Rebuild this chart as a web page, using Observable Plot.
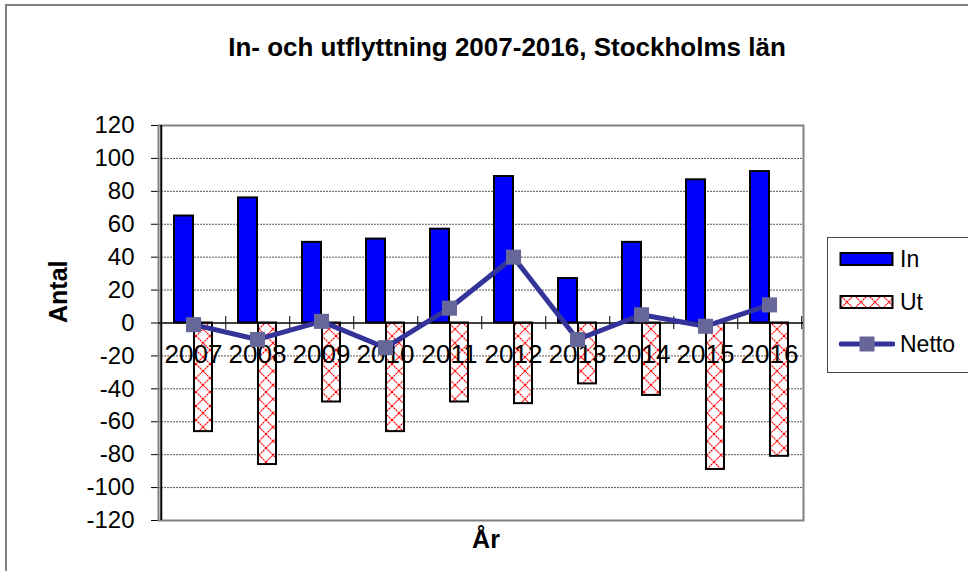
<!DOCTYPE html>
<html>
<head>
<meta charset="utf-8">
<script src="https://cdn.jsdelivr.net/npm/d3@7"></script>
<script src="https://cdn.jsdelivr.net/npm/@observablehq/plot@0.6"></script>
<style>
  html, body { margin: 0; padding: 0; background: #fff; }
  #wrap { position: relative; width: 968px; height: 571px; overflow: hidden; font-family: "Liberation Sans", Arial, sans-serif; }
  #frame { position: absolute; left: 5px; top: 4px; width: 1010px; height: 620px; border: 2px solid #7f7f7f; }
  #chart { position: absolute; left: 0; top: 0; }
  #legend { position: absolute; left: 827px; top: 237px; width: 142px; height: 134px; border: 1.5px solid #444; background: #fff; }
  .item { position: absolute; left: 11px; height: 26px; display: flex; align-items: center; font-size: 23px; color: #000; }
  .item svg { margin-right: 5px; }
</style>
</head>
<body>
<div id="wrap">
  <div id="frame"></div>
  <div id="chart"></div>
  <div id="legend">
    <div class="item" style="top:8px"><svg width="56" height="16"><rect x="1.5" y="2" width="52" height="12" fill="#0000ff" stroke="#000" stroke-width="2"/></svg>In</div>
    <div class="item" style="top:51px"><svg width="56" height="16"><defs><pattern id="legHatch" width="14" height="14" patternUnits="userSpaceOnUse" x="1" y="1"><rect width="14" height="14" fill="#fff"/><path d="M0,0L14,14M14,0L0,14" stroke="#ff0000" stroke-width="1.1" stroke-dasharray="2,0.6"/></pattern></defs><rect x="1.5" y="2" width="52" height="12" fill="url(#legHatch)" stroke="#000" stroke-width="2"/></svg>Ut</div>
    <div class="item" style="top:93px"><svg width="56" height="16"><line x1="2" y1="8" x2="54" y2="8" stroke="#333399" stroke-width="5" stroke-linecap="round"/><rect x="20.5" y="0.5" width="15" height="15" fill="#666699"/></svg>Netto</div>
  </div>
</div>
<script>
const title = "In- och utflyttning 2007-2016, Stockholms län";
const yLabel = "Antal";
const xLabel = "År";
const years = ["2007","2008","2009","2010","2011","2012","2013","2014","2015","2016"];
const inflyttning = [65, 76, 49, 51, 57, 89, 27, 49, 87, 92];
const utflyttning = [-66, -86, -48, -66, -48, -49, -37, -44, -89, -81];
const netto = [-1, -10, 1, -15, 9, 40, -10, 5, -2, 11];
const yTicks = [-120, -100, -80, -60, -40, -20, 0, 20, 40, 60, 80, 100, 120];

const rows = years.map((year, i) => ({year, inn: inflyttning[i], ut: utflyttning[i], netto: netto[i]}));
const half = 32.25;

const chart = Plot.plot({
  width: 968,
  height: 571,
  marginLeft: 158,
  marginRight: 165,
  marginTop: 125,
  marginBottom: 51,
  style: {fontFamily: "'Liberation Sans', Arial, sans-serif", fontSize: "24px", background: "transparent", overflow: "visible"},
  x: {type: "band", domain: years, padding: 0, axis: null},
  y: {domain: [-120, 120], ticks: yTicks, tickSize: 7, tickPadding: 17, tickFormat: d => String(d), label: null},
  marks: [
    Plot.ruleY(yTicks.filter(d => d !== 0 && Math.abs(d) !== 120), {stroke: "#555", strokeWidth: 1, strokeDasharray: "2,1"}),
    Plot.frame({stroke: "#808080", strokeWidth: 2}),
    Plot.barY(rows, {x: "year", y: "inn", fill: "#0000ff", stroke: "#000", strokeWidth: 2, insetLeft: 13, insetRight: 32}),
    Plot.barY(rows, {x: "year", y: "ut", fill: "url(#utHatch)", stroke: "#000", strokeWidth: 2, insetLeft: 33, insetRight: 13}),
    Plot.ruleY([0], {stroke: "#000", strokeWidth: 1.5}),
    Plot.ruleX(years, {x: d => d, y1: () => -4, y2: () => 4, dx: half, stroke: "#000", strokeWidth: 1}),
    Plot.ruleX([years[0]], {x: d => d, dx: -half, stroke: "#000", strokeWidth: 2}),
    Plot.text(years, {x: d => d, y: () => 0, dy: 32, fontSize: 26, fill: "#000"}),
    Plot.line(rows, {x: "year", y: "netto", stroke: "#333399", strokeWidth: 5}),
    Plot.dot(rows, {x: "year", y: "netto", symbol: "square", r: 8.5, fill: "#666699", stroke: "none"}),
    Plot.text([title], {frameAnchor: "top", lineAnchor: "middle", dy: -78, dx: 26, fontSize: 26, fontWeight: "bold", fill: "#000"}),
    Plot.text([yLabel], {frameAnchor: "left", rotate: -90, dx: -100, fontSize: 25, fontWeight: "bold", fill: "#000"}),
    Plot.text([xLabel], {frameAnchor: "bottom", lineAnchor: "middle", dy: 19, dx: 5, fontSize: 25, fontWeight: "bold", fill: "#000"})
  ]
});

const defs = document.createElementNS("http://www.w3.org/2000/svg", "defs");
defs.innerHTML = '<pattern id="utHatch" width="14" height="14" patternUnits="userSpaceOnUse"><rect width="14" height="14" fill="#fff"/><path d="M0,0L14,14M14,0L0,14" stroke="#ff0000" stroke-width="1.1" stroke-dasharray="2,0.6"/></pattern>';
chart.insertBefore(defs, chart.firstChild);
document.getElementById("chart").appendChild(chart);
</script>
</body>
</html>
